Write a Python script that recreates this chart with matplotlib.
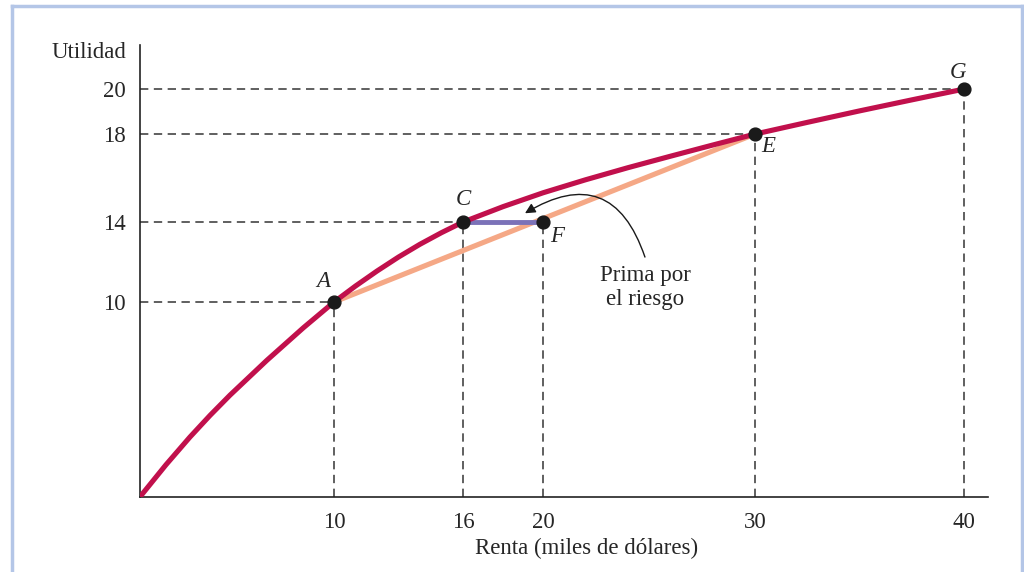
import matplotlib
matplotlib.use("Agg")
import numpy as np
import matplotlib.pyplot as plt
from matplotlib.patches import FancyArrowPatch
from matplotlib.lines import Line2D

# ---- data ----
curve_x = [0.76, 2.0, 3.14, 4.1, 5.05, 6.8, 8.54, 10.0, 11.0, 12.0, 13.0, 14.0, 15.0, 16.0,
           18.0, 20.0, 22.0, 24.0, 26.0, 28.0, 30.0, 32.5, 35.0, 37.5, 40.0]
curve_y = [0.85, 2.36, 3.66, 4.68, 5.63, 7.26, 8.79, 10.0, 10.8, 11.55, 12.25, 12.89, 13.47, 14.0,
           14.7, 15.33, 15.92, 16.47, 16.99, 17.5, 18.0, 18.52, 19.03, 19.52, 20.0]

point_names = ["A", "C", "F", "E", "G"]
point_x = [10, 16, 20, 30, 40]
point_y = [10, 14, 14, 18, 20]

x_ticks = [10, 16, 20, 30, 40]
y_ticks = [10, 14, 18, 20]

x_label = "Renta (miles de dólares)"
y_label = "Utilidad"
note_text = "Prima por\nel riesgo"

# the printed axes are not evenly spaced: piecewise-linear scales
x_knots = [-5, 10, 16, 20, 30, 40, 50]
x_pos = [19, 334, 463, 543, 755, 964, 1173]
y_knots = [-5, 10, 14, 18, 20, 30]
y_pos = [-49.5, 270, 350, 438, 483, 708]

def fx(v):
    return np.interp(v, x_knots, x_pos)

def ix(v):
    return np.interp(v, x_pos, x_knots)

def fy(v):
    return np.interp(v, y_knots, y_pos)

def iy(v):
    return np.interp(v, y_pos, y_knots)

# ---- figure ----
fig = plt.figure(figsize=(10.24, 5.72), dpi=100)
fig.patch.set_facecolor("white")
ax = fig.add_axes([140/1024, (572-497)/572, (988-140)/1024, (497-45)/572])
ax.set_xscale("function", functions=(fx, ix))
ax.set_yscale("function", functions=(fy, iy))
ax.set_xlim(0.762, 41.15)
ax.set_ylim(0.845, 21.96)

serif = ["Liberation Serif", "DejaVu Serif"]
FS = 16.5
TXT = "#262626"

# dashed guide lines
dash_kw = dict(color="#444444", lw=1.2, ls=(0, (5, 3.3)), zorder=1)
pts = dict(zip(point_names, zip(point_x, point_y)))
x0, y0 = ax.get_xlim()[0], ax.get_ylim()[0]
for name in ["A", "C", "E", "G"]:
    px, py = pts[name]
    ax.plot([x0, px], [py, py], **dash_kw)
for name in ["A", "C", "F", "E", "G"]:
    px, py = pts[name]
    ax.plot([px, px], [y0, py], **dash_kw)

# chord A–E
ax.plot([pts["A"][0], pts["E"][0]], [pts["A"][1], pts["E"][1]],
        color="#F5A886", lw=3.7, solid_capstyle="butt", zorder=2)
# risk premium C–F
ax.plot([pts["C"][0], pts["F"][0]], [pts["C"][1], pts["F"][1]],
        color="#7B72B8", lw=3.5, solid_capstyle="butt", zorder=3)
# utility curve
ax.plot(curve_x, curve_y, color="#C1104C", lw=3.7, solid_capstyle="butt",
        solid_joinstyle="round", zorder=4)
# points
ax.scatter(point_x, point_y, s=85, color="#1a1a1a", zorder=6)

# point labels (offsets in pixels)
lbl_off = {"A": (-11, 21), "C": (0, 23), "F": (14, -14), "E": (13, -12), "G": (-6, 17)}
for name in point_names:
    ax.annotate(name, xy=pts[name], xytext=lbl_off[name], textcoords="offset pixels",
                fontsize=FS, family=serif, style="italic", ha="center", va="center",
                color=TXT, zorder=8)

# annotation
ax.text(24.81, 10.72, note_text, fontsize=FS, family=serif, ha="center",
        va="center", color=TXT, linespacing=1.2)
arr = FancyArrowPatch((24.81, 12.25), (19.1, 14.4),
                      connectionstyle="arc3,rad=0.62", arrowstyle="-|>",
                      mutation_scale=15, lw=1.0, color="#1a1a1a", zorder=7,
                      shrinkA=0, shrinkB=0)
ax.add_patch(arr)

# axes styling
for s in ["top", "right"]:
    ax.spines[s].set_visible(False)
for s in ["left", "bottom"]:
    ax.spines[s].set_color("#222222")
    ax.spines[s].set_linewidth(1.2)
ax.set_xticks(x_ticks)
ax.set_yticks(y_ticks)
ax.set_xticklabels([str(v) for v in x_ticks], family=serif, fontsize=FS, color=TXT)
ax.set_yticklabels([str(v) for v in y_ticks], family=serif, fontsize=FS, color=TXT)
ax.minorticks_off()
ax.tick_params(axis="both", which="both", length=0)
ax.tick_params(axis="x", pad=11)
ax.tick_params(axis="y", pad=10)

fig.text(587/1024, 1 - 548/572, x_label, family=serif, fontsize=FS,
         ha="center", va="center", color=TXT)
fig.text(126/1024, 1 - 52/572, y_label, family=serif, fontsize=FS,
         ha="right", va="center", color=TXT)

# light blue frame (left, top, right)
frame_c = "#B4C6E7"
for xs, ys in [([12, 12], [572, 6]), ([1022, 1022], [572, 6]), ([12, 1022], [6, 6])]:
    fig.add_artist(Line2D([v/1024 for v in xs], [1 - v/572 for v in ys],
                          color=frame_c, lw=2.5, transform=fig.transFigure))

fig.savefig("out.png", dpi=100)
